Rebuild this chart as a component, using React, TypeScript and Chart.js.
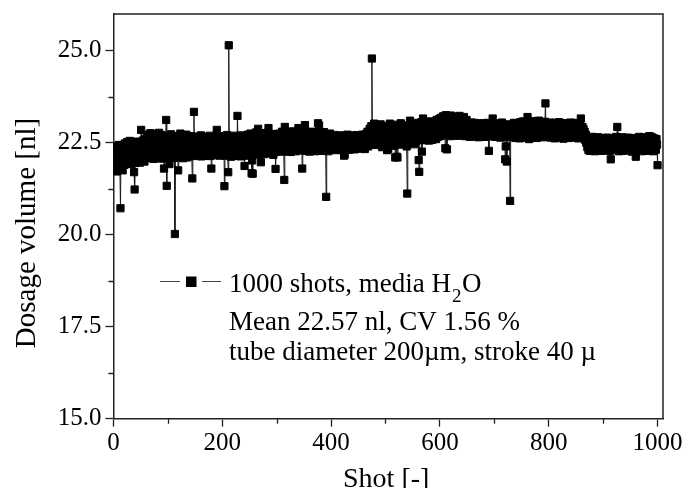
import React, { useEffect, useRef } from "react";
import { Chart, registerables } from "chart.js";

Chart.register(...registerables);

const FONT = "'Liberation Serif', 'Times New Roman', serif";

// Tick values
const xTicks = [0, 200, 400, 600, 800, 1000];
const xMinorTicks = [100, 300, 500, 700, 900];
const yTicks = [15, 17.5, 20, 22.5, 25];
const yMinorTicks = [16.25, 18.75, 21.25, 23.75];

// Texts
const xTitle = "Shot [-]";
const yTitle = "Dosage volume [nl]";
const legendMain = "1000 shots, media H";
const legendSub = "2";
const legendTail = "O";
const noteLine1 = "Mean 22.57 nl, CV 1.56 %";
const noteLine2 = "tube diameter 200\u00b5m, stroke 40 \u00b5";

// Dosage volume [nl] per shot, shots 1..1000
const shots001to100 = [
  22.41, 21.78, 22.20, 21.95, 22.38, 21.72, 22.05, 22.31, 21.86, 22.44,
  22.12, 21.80, 20.72, 22.27, 21.98, 22.40, 21.75, 22.18, 22.35, 21.90,
  22.48, 22.05, 22.30, 21.93, 22.52, 22.15, 22.40, 21.97, 22.25, 22.55,
  22.02, 22.36, 21.92, 22.47, 22.10, 22.28, 22.50, 21.70, 21.23, 21.95,
  22.44, 22.18, 22.53, 21.98, 22.34, 22.08, 22.49, 22.22, 21.96, 22.42,
  22.85, 22.30, 22.05, 22.56, 22.14, 22.38, 21.99, 22.60, 22.26, 22.45,
  22.10, 22.65, 22.32, 22.72, 22.08, 22.50, 22.20, 22.76, 22.41, 22.12,
  22.62, 22.35, 22.70, 22.06, 22.55, 22.28, 22.74, 22.15, 22.46, 22.68,
  22.09, 22.58, 22.30, 22.77, 22.18, 22.52, 22.40, 22.71, 22.07, 22.63,
  22.25, 22.49, 21.80, 22.36, 22.66, 22.22, 23.12, 21.33, 22.44, 22.60,
];
const shots101to200 = [
  22.15, 22.70, 21.92, 22.48, 22.26, 22.73, 22.11, 22.56, 22.34, 22.68,
  22.09, 22.45, 20.02, 22.30, 22.62, 22.14, 22.52, 22.38, 21.75, 22.66,
  22.20, 22.47, 22.75, 22.12, 22.58, 22.29, 22.69, 22.08, 22.43, 22.61,
  22.18, 22.55, 22.33, 22.72, 22.10, 22.50, 22.24, 22.64, 22.37, 22.13,
  22.59, 22.27, 22.68, 22.16, 21.53, 22.42, 22.65, 23.34, 22.36, 22.19,
  22.54, 22.31, 22.67, 22.14, 22.48, 22.25, 22.62, 22.17, 22.51, 22.35,
  22.70, 22.13, 22.45, 22.28, 22.60, 22.20, 22.53, 22.39, 22.66, 22.15,
  22.49, 22.26, 22.63, 22.18, 22.56, 22.33, 22.69, 22.14, 22.44, 21.80,
  22.30, 22.58, 22.21, 22.65, 22.37, 22.16, 22.52, 22.29, 22.61, 22.85,
  22.40, 22.19, 22.55, 22.32, 22.68, 22.15, 22.47, 22.24, 22.60, 22.36,
];
const shots201to300 = [
  22.55, 22.20, 22.66, 21.32, 22.41, 22.15, 22.58, 22.30, 22.71, 22.18,
  21.70, 25.15, 22.45, 22.26, 22.63, 22.12, 22.50, 22.35, 22.69, 22.22,
  22.54, 22.14, 22.60, 22.38, 22.19, 22.66, 22.29, 23.23, 22.47, 22.17,
  22.57, 22.33, 22.70, 22.13, 22.49, 22.25, 22.64, 22.40, 22.16, 22.59,
  21.87, 22.36, 22.68, 22.21, 22.53, 22.31, 22.72, 22.15, 22.46, 22.62,
  22.24, 22.75, 22.34, 21.67, 22.02, 21.66, 22.41, 22.70, 22.22, 22.56,
  22.31, 22.78, 22.18, 22.49, 22.65, 22.88, 22.27, 22.60, 22.37, 22.73,
  21.97, 22.20, 22.52, 22.76, 22.29, 22.63, 22.19, 22.45, 22.70, 22.33,
  22.58, 22.23, 22.77, 22.40, 22.90, 22.26, 22.55, 22.69, 22.21, 22.48,
  22.74, 22.30, 22.61, 22.17, 22.52, 22.36, 22.72, 21.79, 22.25, 22.57,
];
const shots301to400 = [
  22.32, 22.68, 22.41, 22.27, 22.75, 22.50, 22.35, 22.63, 22.29, 22.80,
  22.44, 22.58, 22.26, 21.49, 22.93, 22.38, 22.66, 22.31, 22.54, 22.72,
  22.28, 22.47, 22.79, 22.34, 22.60, 22.25, 22.69, 22.43, 22.56, 22.81,
  22.30, 22.64, 22.37, 22.52, 22.27, 22.74, 22.46, 22.33, 22.67, 22.90,
  22.40, 22.29, 22.61, 22.78, 22.36, 22.55, 21.80, 22.42, 22.70, 22.31,
  22.58, 22.98, 22.45, 22.28, 22.65, 22.39, 22.76, 22.32, 22.53, 22.26,
  22.68, 22.44, 22.80, 22.35, 22.59, 22.29, 22.72, 22.48, 22.37, 22.63,
  22.27, 22.77, 22.41, 22.56, 22.33, 23.03, 22.50, 22.97, 22.36, 22.66,
  22.30, 22.74, 22.45, 22.28, 22.61, 22.39, 22.79, 22.34, 22.57, 22.42,
  21.03, 22.31, 22.69, 22.46, 22.27, 22.64, 22.38, 22.75, 22.33, 22.55,
];
const shots401to500 = [
  22.40, 22.66, 22.33, 22.58, 22.45, 22.71, 22.36, 22.52, 22.30, 22.68,
  22.43, 22.60, 22.34, 22.55, 22.70, 22.38, 22.49, 22.32, 22.64, 22.41,
  22.57, 22.30, 22.69, 22.15, 22.18, 22.47, 22.62, 22.35, 22.54, 22.72,
  22.39, 22.50, 22.31, 22.66, 22.44, 22.59, 22.33, 22.70, 22.46, 22.37,
  22.63, 22.52, 22.32, 22.68, 22.42, 22.56, 22.35, 22.71, 22.48, 22.39,
  22.65, 22.53, 22.34, 22.69, 22.44, 22.60, 22.37, 22.72, 22.50, 22.41,
  22.66, 22.33, 22.57, 22.74, 22.45, 22.62, 22.80, 22.40, 22.70, 22.55,
  22.88, 22.47, 22.76, 22.95, 24.79, 22.60, 22.85, 22.50, 23.02, 22.68,
  22.44, 22.90, 22.58, 22.78, 22.48, 22.97, 22.65, 22.83, 22.45, 22.72,
  23.00, 22.55, 22.87, 22.38, 22.77, 22.62, 22.95, 22.50, 22.80, 22.42,
];
const shots501to600 = [
  22.70, 22.93, 22.30, 22.65, 22.32, 22.85, 22.52, 23.02, 22.60, 22.78,
  22.46, 22.96, 22.68, 22.55, 22.88, 22.42, 22.74, 22.10, 22.58, 22.99,
  22.12, 22.10, 22.66, 22.90, 22.48, 22.80, 22.57, 23.03, 22.63, 22.45,
  22.86, 22.70, 22.52, 22.97, 22.61, 22.82, 22.47, 22.75, 22.40, 21.12,
  22.68, 22.92, 22.55, 22.79, 23.10, 22.64, 22.50, 22.88, 22.58, 23.00,
  22.72, 22.46, 22.84, 22.62, 22.96, 22.54, 22.77, 22.66, 23.04, 22.60,
  22.03, 21.71, 22.58, 22.87, 22.70, 23.06, 22.26, 22.62, 23.16, 22.78,
  22.57, 22.95, 22.68, 22.85, 22.59, 23.05, 22.73, 22.62, 22.92, 22.56,
  22.83, 22.70, 23.08, 22.61, 22.88, 22.58, 22.97, 22.74, 22.64, 23.03,
  22.69, 22.86, 22.60, 23.12, 22.77, 22.66, 22.95, 22.71, 23.15, 22.68,
];
const shots601to700 = [
  22.90, 23.18, 22.75, 23.05, 22.70, 23.22, 22.84, 23.10, 22.78, 22.35,
  23.25, 22.82, 22.32, 23.12, 22.72, 23.20, 22.88, 23.02, 22.68, 23.24,
  22.80, 23.08, 22.74, 23.17, 22.92, 22.70, 23.21, 22.85, 23.04, 22.76,
  23.19, 22.90, 22.69, 23.14, 22.82, 23.23, 22.73, 23.06, 22.87, 23.16,
  22.71, 23.00, 22.80, 23.20, 22.75, 23.09, 22.68, 22.95, 23.12, 22.78,
  22.97, 22.70, 23.03, 22.84, 22.66, 22.99, 22.76, 23.05, 22.88, 22.69,
  22.93, 22.79, 23.04, 22.72, 22.90, 22.67, 23.01, 22.83, 22.74, 22.98,
  22.65, 22.87, 23.03, 22.76, 22.92, 22.70, 22.96, 22.81, 22.68, 23.02,
  22.78, 22.91, 22.66, 22.99, 22.84, 22.73, 23.04, 22.80, 22.69, 22.28,
  22.75, 22.95, 22.71, 22.88, 23.00, 22.77, 23.16, 22.82, 22.67, 22.94,
];
const shots701to800 = [
  22.78, 22.66, 22.98, 22.72, 22.87, 23.03, 22.69, 22.84, 22.75, 22.97,
  22.64, 22.90, 22.79, 23.05, 22.70, 22.86, 22.67, 22.99, 22.77, 22.05,
  22.40, 22.88, 21.99, 22.73, 22.93, 22.68, 22.82, 23.00, 20.92, 22.71,
  22.89, 22.65, 22.96, 22.80, 22.70, 23.04, 22.76, 22.91, 22.63, 22.85,
  23.02, 22.72, 22.88, 22.67, 22.98, 22.78, 22.62, 23.06, 22.83, 22.70,
  22.95, 22.74, 23.08, 22.64, 22.89, 22.77, 23.03, 22.68, 22.92, 22.81,
  23.20, 22.72, 22.97, 22.60, 22.86, 23.07, 22.75, 22.93, 22.66, 23.04,
  22.82, 22.69, 22.99, 22.78, 23.09, 22.71, 22.90, 22.63, 23.02, 22.84,
  22.74, 23.10, 22.79, 22.94, 22.67, 23.05, 22.83, 22.72, 23.00, 22.76,
  22.91, 22.65, 23.07, 23.57, 22.85, 22.70, 23.03, 22.77, 22.96, 22.68,
];
const shots801to900 = [
  22.92, 22.73, 23.05, 22.64, 22.87, 22.78, 23.01, 22.69, 22.95, 22.81,
  22.62, 23.04, 22.75, 22.90, 22.67, 22.98, 22.79, 22.71, 23.06, 22.84,
  22.65, 22.93, 22.76, 23.02, 22.70, 22.88, 22.61, 22.97, 22.82, 22.72,
  23.03, 22.77, 22.91, 22.66, 22.99, 22.80, 22.63, 22.94, 22.74, 23.05,
  22.69, 22.86, 22.78, 23.00, 22.64, 22.92, 22.73, 22.96, 22.83, 22.67,
  23.04, 22.76, 22.89, 22.62, 22.98, 22.80, 22.71, 22.95, 23.16, 22.84,
  22.68, 22.93, 22.75, 22.87, 22.64, 22.80, 22.58, 22.72, 22.50, 22.62,
  22.38, 22.55, 22.30, 22.64, 22.42, 22.28, 22.58, 22.35, 22.66, 22.47,
  22.29, 22.60, 22.40, 22.52, 22.27, 22.63, 22.44, 22.33, 22.57, 22.38,
  22.65, 22.30, 22.49, 22.61, 22.36, 22.54, 22.28, 22.62, 22.43, 22.51,
];
const shots901to1000 = [
  22.34, 22.60, 22.41, 22.29, 22.56, 22.46, 22.64, 22.31, 22.52, 22.38,
  22.62, 22.28, 22.47, 22.05, 22.35, 22.58, 22.42, 22.30, 22.63, 22.49,
  22.33, 22.57, 22.40, 22.66, 22.45, 22.93, 22.37, 22.55, 22.27, 22.61,
  22.44, 22.32, 22.59, 22.39, 22.65, 22.28, 22.50, 22.36, 22.62, 22.43,
  22.30, 22.57, 22.47, 22.34, 22.64, 22.41, 22.29, 22.55, 22.38, 22.61,
  22.32, 22.48, 22.26, 22.58, 22.42, 22.63, 22.35, 22.52, 22.29, 22.12,
  22.45, 22.60, 22.33, 22.56, 22.40, 22.66, 22.31, 22.50, 22.37, 22.62,
  22.27, 22.54, 22.44, 22.59, 22.33, 22.65, 22.39, 22.51, 22.28, 22.60,
  22.46, 22.35, 22.63, 22.41, 22.68, 22.30, 22.55, 22.43, 22.66, 22.34,
  22.58, 22.27, 22.50, 22.62, 22.38, 22.57, 22.31, 22.60, 22.45, 21.89,
];

const dosage = [
  ...shots001to100, ...shots101to200, ...shots201to300, ...shots301to400, ...shots401to500,
  ...shots501to600, ...shots601to700, ...shots701to800, ...shots801to900, ...shots901to1000,
];

const overlayPlugin = {
  id: "overlay",
  afterDraw(chart: any) {
    const { ctx, chartArea: a, scales } = chart;
    const xs = scales.x;
    const ys = scales.y;
    ctx.save();
    // top and right frame
    ctx.strokeStyle = "#222";
    ctx.lineWidth = 1.5;
    ctx.beginPath();
    ctx.moveTo(a.left, a.top);
    ctx.lineTo(a.right, a.top);
    ctx.lineTo(a.right, a.bottom);
    ctx.stroke();
    // minor ticks
    ctx.lineWidth = 1.3;
    ctx.beginPath();
    xMinorTicks.forEach((v) => {
      const px = Math.round(xs.getPixelForValue(v)) + 0.5;
      ctx.moveTo(px, a.bottom);
      ctx.lineTo(px, a.bottom + 5);
    });
    yMinorTicks.forEach((v) => {
      const py = Math.round(ys.getPixelForValue(v)) + 0.5;
      ctx.moveTo(a.left, py);
      ctx.lineTo(a.left - 5, py);
    });
    ctx.stroke();

    // axis titles
    ctx.fillStyle = "#000";
    ctx.textBaseline = "alphabetic";
    ctx.textAlign = "center";
    ctx.font = `28px ${FONT}`;
    ctx.fillText(xTitle, (a.left + a.right) / 2 - 2, 487);
    ctx.save();
    ctx.translate(35, 233);
    ctx.rotate(-Math.PI / 2);
    ctx.font = `29px ${FONT}`;
    ctx.fillText(yTitle, 0, 0);
    ctx.restore();

    // legend symbol
    const ly = 281.5;
    ctx.strokeStyle = "#444";
    ctx.lineWidth = 1.2;
    ctx.beginPath();
    ctx.moveTo(160, ly);
    ctx.lineTo(180, ly);
    ctx.moveTo(202, ly);
    ctx.lineTo(221, ly);
    ctx.stroke();
    ctx.fillStyle = "#000";
    ctx.fillRect(186, ly - 5, 10.5, 10.5);

    // legend text
    ctx.textAlign = "left";
    ctx.font = `27px ${FONT}`;
    const tx = 229;
    ctx.fillText(legendMain, tx, 291.5);
    const w1 = ctx.measureText(legendMain).width;
    ctx.font = `19px ${FONT}`;
    ctx.fillText(legendSub, tx + w1 + 1, 301.5);
    const w2 = ctx.measureText(legendSub).width;
    ctx.font = `27px ${FONT}`;
    ctx.fillText(legendTail, tx + w1 + w2 + 1.5, 291.5);
    ctx.fillText(noteLine1, tx, 330);
    ctx.fillText(noteLine2, tx, 360);
    ctx.restore();
  },
};

export default function App() {
  const canvasRef = useRef<HTMLCanvasElement | null>(null);

  useEffect(() => {
    const canvas = canvasRef.current;
    if (!canvas) return;
    const points = dosage.map((v, i) => ({ x: i + 1, y: v }));
    const tickFont = { family: FONT, size: 25 };
    const chart = new Chart(canvas, {
      type: "line",
      data: {
        datasets: [
          {
            label: "1000 shots, media H2O",
            data: points,
            borderColor: "#1a1a1a",
            borderWidth: 1,
            tension: 0,
            pointStyle: "rect",
            pointRadius: 5.1,
            pointBackgroundColor: "#000",
            pointBorderColor: "#000",
            pointBorderWidth: 1,
          },
        ],
      },
      options: {
        animation: false,
        responsive: false,
        devicePixelRatio: 1,
        events: [],
        layout: { padding: { top: 14, right: 20, left: 0, bottom: 0 } },
        plugins: {
          legend: { display: false },
          tooltip: { enabled: false },
        },
        scales: {
          x: {
            type: "linear",
            min: 0,
            max: 1010,
            afterBuildTicks: (s: any) => {
              s.ticks = xTicks.map((v) => ({ value: v }));
            },
            afterFit: (s: any) => {
              s.height = 69.3;
              s.paddingLeft = 0;
              s.paddingRight = 0;
            },
            ticks: {
              font: tickFont,
              color: "#000",
              padding: 2,
              maxRotation: 0,
              autoSkip: false,
              callback: (v: any) => String(v),
            },
            grid: { drawOnChartArea: false, tickLength: 8, tickWidth: 1.3, tickColor: "#222" },
            border: { display: true, color: "#222", width: 1.5 },
          },
          y: {
            type: "linear",
            min: 15,
            max: 26,
            afterBuildTicks: (s: any) => {
              s.ticks = yTicks.map((v) => ({ value: v }));
            },
            afterFit: (s: any) => {
              s.width = 113.4;
              s.paddingTop = 0;
              s.paddingBottom = 0;
            },
            ticks: {
              font: tickFont,
              color: "#000",
              padding: 4,
              autoSkip: false,
              callback: (v: any) => Number(v).toFixed(1),
            },
            grid: { drawOnChartArea: false, tickLength: 8, tickWidth: 1.3, tickColor: "#222" },
            border: { display: true, color: "#222", width: 1.5 },
          },
        },
      },
      plugins: [overlayPlugin],
    });
    return () => chart.destroy();
  }, []);

  return (
    <div style={{ position: "fixed", left: 0, top: 0, width: 683, height: 488, background: "#fff" }}>
      <canvas ref={canvasRef} width={683} height={488} style={{ display: "block" }} />
    </div>
  );
}
